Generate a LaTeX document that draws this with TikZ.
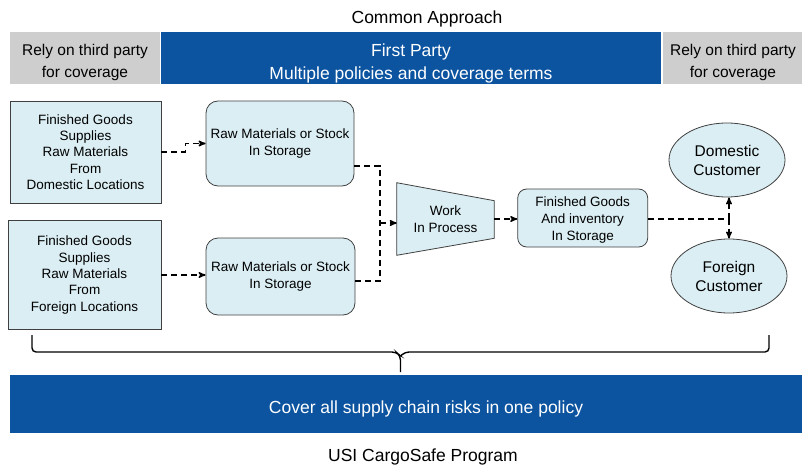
\documentclass[tikz,border=0pt]{standalone}
\usepackage{fontspec}
\setmainfont{Liberation Sans}
\usetikzlibrary{positioning, arrows, shapes.geometric, backgrounds}

\definecolor{usiblue}{RGB}{12,84,160}
\definecolor{headgray}{RGB}{206,206,206}
\definecolor{boxfill}{RGB}{219,238,244}
\definecolor{boxline}{RGB}{64,64,64}

\begin{document}
\begin{tikzpicture}[x=1pt, y=-1pt, >=stealth', semithick,
    head/.style={inner sep=0, minimum height=52pt},
    headtext/.style={inner sep=0, align=center, font=\fontsize{15.5}{22}\selectfont},
    big/.style={font=\fontsize{17.5}{23}\selectfont},
    source/.style={draw=boxline, fill=boxfill, line width=0.8pt, inner sep=0, align=center, font=\fontsize{13.5}{16.4}\selectfont},
    store/.style={source, rounded corners=12pt},
    customer/.style={source, ellipse, font=\fontsize{15.5}{19}\selectfont},
    flow/.style={->, dash pattern=on 6pt off 4pt, line width=1.4pt}]
    \useasboundingbox (0,0) rectangle (802,465);

    \node[big] (title) at (427,19) {Common Approach};
    \node[head, fill=headgray, minimum width=150pt] (tpl) at (85,58.5) {};
    \node[head, fill=usiblue, minimum width=500pt] (fp) at (411,58.5) {};
    \node[head, fill=headgray, minimum width=140pt] (tpr) at (733,58.5) {};
    \node[headtext] at ([yshift=-3.5pt]tpl) {Rely on third party\\for coverage};
    \node[headtext, big, align=center, text=white] at ([yshift=-4.5pt]fp) {First Party\\Multiple policies and coverage terms};
    \node[headtext] at ([yshift=-3.5pt]tpr) {Rely on third party\\for coverage};

    \node[source, minimum width=151pt, minimum height=102pt] (dom) at (85.5,152) {Finished Goods\\Supplies\\Raw Materials\\From\\Domestic Locations};
    \node[source, minimum width=153pt, minimum height=109pt] (for) at (84.5,275) {Finished Goods\\Supplies\\Raw Materials\\From\\Foreign Locations};
    \node[store, minimum width=148pt, minimum height=85pt] (rs1) at (280,143.5) {Raw Materials or Stock\\In Storage};
    \node[store, minimum width=149pt, minimum height=77pt] (rs2) at (280.5,276.5) {Raw Materials or Stock\\In Storage};
    \node[inner sep=0, minimum width=97pt, minimum height=72pt, align=center, font=\fontsize{13.5}{16.4}\selectfont] (wip) at (445.5,219) {Work\\In Process};
    \node[store, rounded corners=9pt, minimum width=130pt, minimum height=58pt] (fg) at (582.7,218) {};
    \node[inner sep=0, align=center, font=\fontsize{13.5}{16.6}\selectfont] at ([yshift=-2pt]fg) {Finished Goods\\And inventory\\In Storage};
    \node[customer, minimum width=116pt, minimum height=74pt] (dc) at (727,160) {Domestic\\Customer};
    \node[customer, minimum width=116pt, minimum height=74pt] (fc) at (729,276) {Foreign\\Customer};

    \begin{pgfonlayer}{background}
        \draw[draw=boxline, fill=boxfill, line width=0.8pt] (wip.north west) -- ([yshift=-18pt]wip.north east) -- ([yshift=17pt]wip.south east) -- (wip.south west) -- cycle;
    \end{pgfonlayer}

    \coordinate (j) at (380,223);
    \coordinate (k) at (729,219);

    \draw[flow] (dom.east) -- ++(24,0) |- (rs1.west);
    \draw[flow] (for.east) -- (for.east -| rs2.west);
    \draw[flow, -] ([yshift=-22.5pt]rs1.east) -| (j);
    \draw[flow, -] ([yshift=-4.5pt]rs2.east) -| (j);
    \draw[flow] (j) -- (j -| wip.west);
    \draw[flow] (wip.east) -- (wip.east -| fg.west);
    \draw[flow, -] (fg.east |- k) -- (k);
    \draw[flow] (k) -- (k |- dc.south);
    \draw[flow] (k) -- (k |- fc.north);

    \draw[line width=1.4pt, rounded corners=4pt] (32,335) -- (32,352) -- (396,352) -- (400.5,356) -- (400.5,372);
    \draw[line width=1.4pt, rounded corners=4pt] (769,335) -- (769,352) -- (405,352) -- (400.5,356);

    \node[fill=usiblue, inner sep=0, minimum width=792pt, minimum height=58pt] (band) at (406,404) {};
    \node[big, text=white] (cover) at (426,409) {Cover all supply chain risks in one policy};
    \node[big] (prog) at (423,457) {USI CargoSafe Program};
\end{tikzpicture}
\end{document}
